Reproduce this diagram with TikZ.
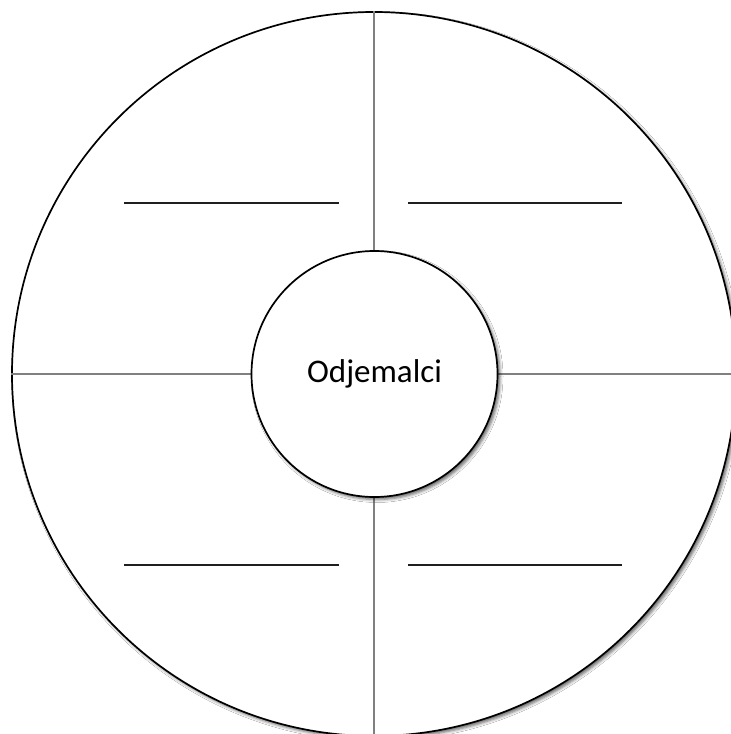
\documentclass[tikz,border=0pt]{standalone}
\usepackage{fontspec}
\setmainfont{Carlito}
\usetikzlibrary{shadows.blur}
\begin{document}
\begin{tikzpicture}[x=1pt,y=-1pt,
  ring/.style={circle,draw=black,line width=1.7pt,fill=white,inner sep=0pt,
    blur shadow={shadow xshift=2.5pt,shadow yshift=-2.5pt,shadow blur radius=3pt,shadow opacity=60}},
  divider/.style={draw=black!50,line width=1.5pt},
  blank/.style={draw=black!88,line width=2pt}]
\useasboundingbox (0,0) rectangle (731,734);
\fill[white] (0,0) rectangle (731,734);
\node[ring,minimum size=724pt] (outer) at (374,374) {};
\coordinate (bottom) at (374,734);
\draw[divider] (outer.north) -- (bottom);
\draw[divider] (outer.west) -- (outer.east);
\node[ring,minimum size=246pt,font=\fontsize{33}{40}\selectfont] (inner) at (374.5,374) {Odjemalci};
\coordinate (a1) at (124,203); \coordinate (a2) at (339,203);
\coordinate (b1) at (408,203); \coordinate (b2) at (622,203);
\coordinate (c1) at (124,565); \coordinate (c2) at (339,565);
\coordinate (d1) at (408,565); \coordinate (d2) at (622,565);
\draw[blank] (a1) -- (a2);
\draw[blank] (b1) -- (b2);
\draw[blank] (c1) -- (c2);
\draw[blank] (d1) -- (d2);
\end{tikzpicture}
\end{document}
